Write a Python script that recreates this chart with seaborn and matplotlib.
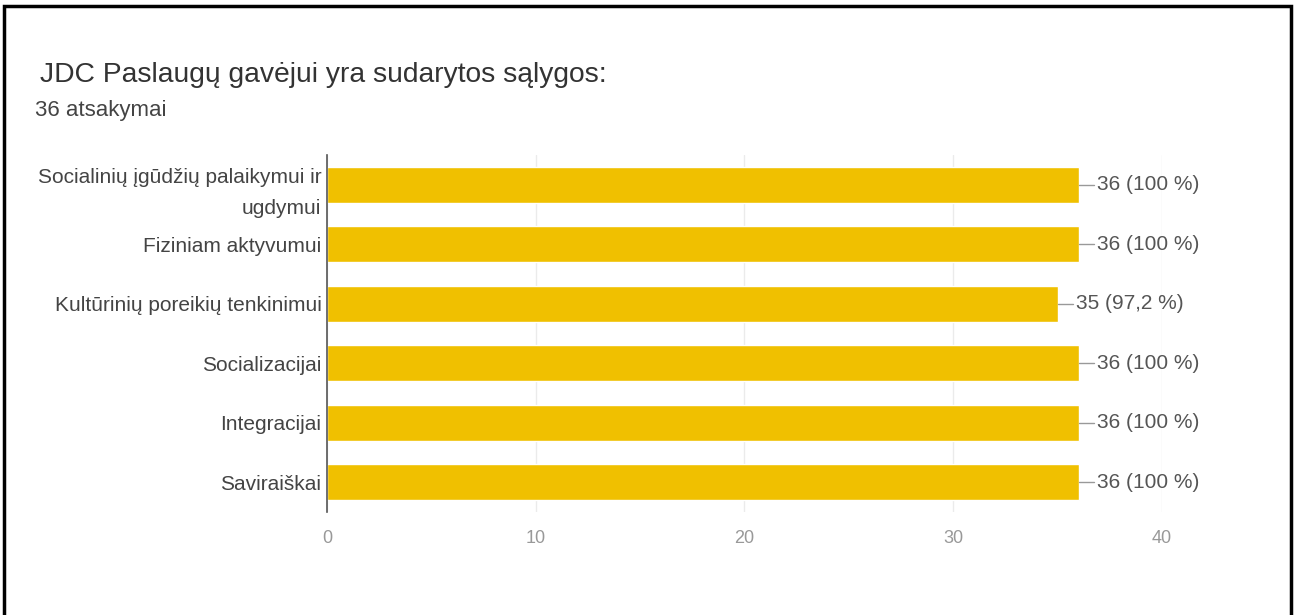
import matplotlib
matplotlib.use("Agg")
import matplotlib.pyplot as plt
import seaborn as sns
import pandas as pd
from matplotlib.patches import Rectangle

categories = [
    "Socialinių įgūdžių palaikymui ir\nugdymui",
    "Fiziniam aktyvumui",
    "Kultūrinių poreikių tenkinimui",
    "Socializacijai",
    "Integracijai",
    "Saviraiškai",
]
counts = [36, 36, 35, 36, 36, 36]
labels = ["36 (100 %)", "36 (100 %)", "35 (97,2 %)", "36 (100 %)", "36 (100 %)", "36 (100 %)"]
x_ticks = [0, 10, 20, 30, 40]
title = "JDC Paslaugų gavėjui yra sudarytos sąlygos:"
subtitle = "36 atsakymai"

sns.set_theme(style="white")
plt.rcParams["font.family"] = ["Liberation Sans", "DejaVu Sans"]

df = pd.DataFrame({"category": categories, "count": counts})

fig = plt.figure(figsize=(12.95, 6.15), dpi=100)
ax = fig.add_axes([0.2525, 0.1675, 0.8973 - 0.2525, 0.748 - 0.1675])

sns.barplot(data=df, x="count", y="category", orient="h", color="#F0C000",
            saturation=1, width=0.61, ax=ax)

ax.set_xlim(0, 40)
ax.set_ylim(5.5, -0.5)
ax.set_xticks(x_ticks)
ax.set_xticklabels([str(t) for t in x_ticks], color="#999999", fontsize=13)
ax.tick_params(axis="x", length=0, pad=13)
ax.tick_params(axis="y", length=0, pad=4)
for lab in ax.get_yticklabels():
    lab.set_fontsize(15)
    lab.set_color("#444444")
    lab.set_horizontalalignment("right")
    lab.set_multialignment("right")
    lab.set_linespacing(1.85)
ax.set_xlabel("")
ax.set_ylabel("")
ax.set_axisbelow(True)
ax.xaxis.grid(True, color="#ebebeb", linewidth=1)
for s in ["top", "right", "bottom"]:
    ax.spines[s].set_visible(False)
ax.spines["left"].set_color("#555555")
ax.spines["left"].set_linewidth(1.2)

for i, (v, lab) in enumerate(zip(counts, labels)):
    ax.plot([v, v + 0.72], [i, i], color="#999999", linewidth=1, clip_on=False)
    ax.text(v + 0.9, i, lab, va="center", ha="left", fontsize=15, color="#555555")

fig.text(40 / 1295, 1 - 75 / 615, title, fontsize=20.3, color="#333333", va="center", ha="left")
fig.text(35 / 1295, 1 - 111 / 615, subtitle, fontsize=16, color="#444444", va="center", ha="left")

fig.patches.append(Rectangle((4 / 1295, -0.05), (1291 - 4) / 1295, 1 - 6 / 615 + 0.05,
                             transform=fig.transFigure, fill=False, edgecolor="black",
                             linewidth=2.5, clip_on=False))

fig.savefig("out.png", dpi=100, facecolor="white")
